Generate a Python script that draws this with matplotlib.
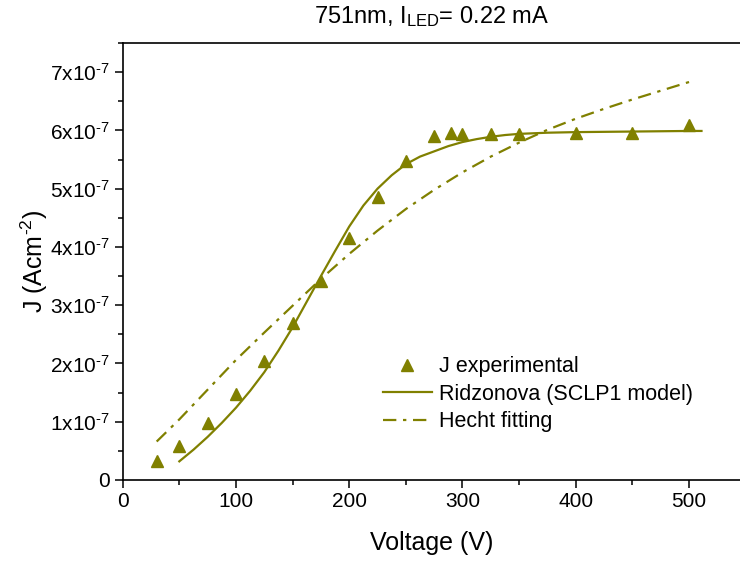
import numpy as np
import matplotlib
matplotlib.use("Agg")
import matplotlib.pyplot as plt
from matplotlib.ticker import MultipleLocator, FuncFormatter

# experimental points (J in units of 1e-7 A/cm^2)
v_exp = [30, 50, 75, 100, 125, 150, 175, 200, 225, 250, 275, 290, 300, 325, 350, 400, 450, 500]
j_exp = [0.33, 0.58, 0.98, 1.47, 2.04, 2.70, 3.41, 4.15, 4.85, 5.47, 5.90, 5.95, 5.93, 5.93, 5.93, 5.95, 5.96, 6.09]

# Ridzonova (SCLP1 model) fit
v_ridz = [50, 62.5, 75, 87.5, 100, 112.5, 125, 137.5, 150, 162.5, 175, 187.5, 200, 212.5, 225,
          237.5, 250, 262.5, 275, 287.5, 300, 312.5, 325, 337.5, 350, 375, 400, 450, 500, 511]
j_ridz = [0.32, 0.52, 0.74, 0.98, 1.24, 1.53, 1.85, 2.22, 2.62, 3.06, 3.50, 3.93, 4.35, 4.71, 5.00,
          5.23, 5.42, 5.55, 5.64, 5.73, 5.80, 5.85, 5.89, 5.92, 5.94, 5.96, 5.97, 5.98, 5.99, 5.99]

# Hecht fitting
v_hecht = [30, 50, 75, 100, 125, 150, 175, 200, 225, 250, 275, 300, 325, 350, 375, 400, 425, 450, 475, 500]
j_hecht = [0.66, 1.04, 1.55, 2.06, 2.53, 2.99, 3.45, 3.88, 4.28, 4.65, 4.98, 5.28, 5.55, 5.79, 6.01,
           6.20, 6.37, 6.53, 6.68, 6.83]

olive = "#808000"

plt.rcParams['font.family'] = ['Liberation Sans', 'DejaVu Sans']
plt.rcParams['mathtext.fontset'] = 'custom'
plt.rcParams['mathtext.rm'] = 'Liberation Sans'
plt.rcParams['mathtext.it'] = 'Liberation Sans:italic'

fig = plt.figure(figsize=(7.4, 5.61), dpi=100)
ax = fig.add_axes([0.1658, 0.1444, 0.8342, 0.779])

scale = 1e-7
ax.plot(v_exp, np.array(j_exp) * scale, linestyle='none', marker='^', ms=8.5,
        color=olive, label='J experimental')
ax.plot(v_ridz, np.array(j_ridz) * scale, color=olive, lw=1.6,
        label='Ridzonova (SCLP1 model)')
ax.plot(v_hecht, np.array(j_hecht) * scale, color=olive, lw=1.6,
        dashes=(6, 3, 1.5, 3), label='Hecht fitting')

ax.set_xlim(0, 545)
ax.set_ylim(0, 7.5e-7)
ax.xaxis.set_major_locator(MultipleLocator(100))
ax.xaxis.set_minor_locator(MultipleLocator(50))
ax.yaxis.set_major_locator(MultipleLocator(1e-7))
ax.yaxis.set_minor_locator(MultipleLocator(0.5e-7))


def yfmt(val, pos):
    n = int(round(val / 1e-7))
    if n == 0:
        return '0'
    return r'$\mathregular{%dx10^{\text{-}7}}$' % n


ax.yaxis.set_major_formatter(FuncFormatter(yfmt))
ax.tick_params(which='major', direction='out', length=6, width=1.1, labelsize=15, pad=3)
ax.tick_params(which='minor', direction='out', length=3.5, width=1.1)
ax.spines['right'].set_visible(False)
for s in ['left', 'bottom', 'top']:
    ax.spines[s].set_linewidth(1.2)

ax.set_xlabel('Voltage (V)', fontsize=18, labelpad=14)
ax.set_ylabel(r'J (Acm$^{\mathregular{\text{-}2}}$)', fontsize=18, labelpad=0)
ax.set_title(r'751nm, I$_{\mathregular{LED}}$= 0.22 mA', fontsize=17, pad=14)

ax.legend(loc='upper left', bbox_to_anchor=(0.517, 0.365), bbox_transform=fig.transFigure,
          frameon=False, fontsize=15.5, handlelength=2.3, handletextpad=0.3,
          labelspacing=0.3, borderpad=0, borderaxespad=0)

fig.savefig('out.png', dpi=100)
